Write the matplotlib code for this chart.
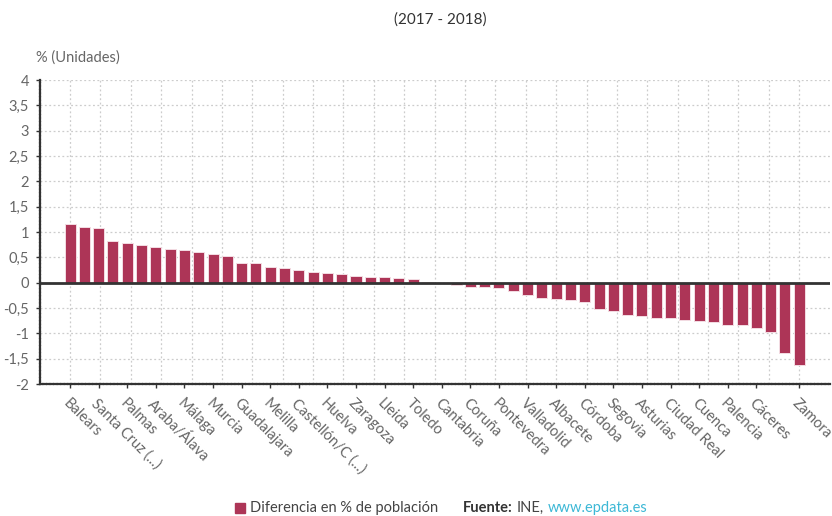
import numpy as np
import matplotlib as mpl
mpl.use("Agg")
import matplotlib.pyplot as plt

# provincias ordenadas por variación de población 2017-2018
provincias = [
    "Balears", "Madrid", "Santa Cruz (...)", "Girona", "Palmas", "Tarragona",
    "Araba/Álava", "Barcelona", "Málaga", "Alicante", "Murcia", "Almería",
    "Guadalajara", "Navarra", "Melilla", "Valencia", "Castellón/C (...)",
    "Gipuzkoa", "Huelva", "Rioja", "Zaragoza", "Sevilla", "Lleida", "Bizkaia",
    "Toledo", "Granada", "Cantabria", "Cádiz", "Coruña", "Huesca",
    "Pontevedra", "Ceuta", "Valladolid", "Burgos", "Albacete", "Badajoz",
    "Córdoba", "Salamanca", "Segovia", "Teruel", "Asturias", "Soria",
    "Ciudad Real", "Lugo", "Cuenca", "Jaén", "Palencia", "León", "Cáceres",
    "Ourense", "Ávila", "Zamora",
]
diferencia = [
    1.15, 1.09, 1.08, 0.83, 0.79, 0.745, 0.705, 0.67, 0.645, 0.60, 0.565,
    0.535, 0.395, 0.38, 0.305, 0.285, 0.245, 0.215, 0.19, 0.178, 0.132,
    0.113, 0.107, 0.092, 0.075, 0.01, -0.005, -0.05, -0.08, -0.09, -0.10,
    -0.16, -0.24, -0.30, -0.32, -0.34, -0.38, -0.52, -0.55, -0.64, -0.655,
    -0.695, -0.695, -0.73, -0.755, -0.77, -0.835, -0.84, -0.885, -0.98,
    -1.38, -1.62,
]
# solo se rotula una de cada dos provincias, más la última
etiquetadas = list(range(0, 50, 2)) + [51]
yticks = np.arange(-2, 4.01, 0.5)

color_barra = "#ad3557"
gris_texto = "#666666"

plt.rcParams["font.family"] = ["Lato", "DejaVu Sans"]

fig = plt.figure(figsize=(8.32, 5.16), dpi=100)
ax = fig.add_axes([40 / 832, (516 - 384) / 516, 790 / 832, 304 / 516])

x = np.arange(len(provincias))
ax.bar(x, diferencia, width=0.77, color=color_barra, edgecolor="#f3dde3",
       linewidth=0.7, zorder=3)

ax.set_xlim(-2.1, 53.15)
ax.set_ylim(-2, 4)

# rejilla punteada
for gx in np.linspace(0, 51, 25):
    ax.axvline(gx, color="#cccccc", linestyle=(0, (1.5, 2)), linewidth=0.9, zorder=1)
for gy in yticks:
    ax.axhline(gy, color="#cccccc", linestyle=(0, (1.5, 2)), linewidth=0.9, zorder=1)
ax.axhline(0, color="#333333", linewidth=2, zorder=4)

for s in ["top", "right"]:
    ax.spines[s].set_visible(False)
for s in ["left", "bottom"]:
    ax.spines[s].set_color("#333333")
    ax.spines[s].set_linewidth(1.6)
    ax.spines[s].set_linestyle((0, (1, 0.6)))

ax.set_yticks(yticks)
ax.set_yticklabels([("%g" % v).replace(".", ",") for v in yticks],
                   fontsize=10.5, color=gris_texto)
ax.tick_params(axis="y", length=3, width=1, color="#333333", pad=5)

ax.set_xticks(etiquetadas)
ax.set_xticklabels([provincias[i] for i in etiquetadas], rotation=-45,
                   ha="left", va="top", rotation_mode="anchor",
                   fontsize=10.5, color=gris_texto)
ax.tick_params(axis="x", length=3, width=1, color="#333333", pad=6)

fig.text(440 / 832, 1 - 20 / 516, "(2017 - 2018)", ha="center", va="center",
         fontsize=11, color="#333333")
fig.text(36 / 832, 1 - 58 / 516, "% (Unidades)", ha="left", va="center",
         fontsize=10.5, color=gris_texto)

# leyenda y fuente al pie
fig.patches.append(mpl.patches.Rectangle((235 / 832, 1 - 513 / 516), 10 / 832, 10 / 516,
                                         transform=fig.transFigure, color=color_barra))
fig.text(250 / 832, 1 - 508 / 516, "Diferencia en % de población", ha="left",
         va="center", fontsize=10.5, color="#444444")
t = fig.text(463 / 832, 1 - 508 / 516, "Fuente:", ha="left", va="center",
             fontsize=10.5, color="#333333", fontweight="bold")
fig.canvas.draw()
bb = t.get_window_extent()
t2 = fig.text(bb.x1 / 832 + 4 / 832, 1 - 508 / 516, "INE,", ha="left", va="center",
              fontsize=10.5, color="#444444")
bb2 = t2.get_window_extent(renderer=fig.canvas.get_renderer())
fig.text(bb2.x1 / 832 + 4 / 832, 1 - 508 / 516, "www.epdata.es", ha="left",
         va="center", fontsize=10.5, color="#3db8d6")

fig.savefig("out.png", dpi=100)
